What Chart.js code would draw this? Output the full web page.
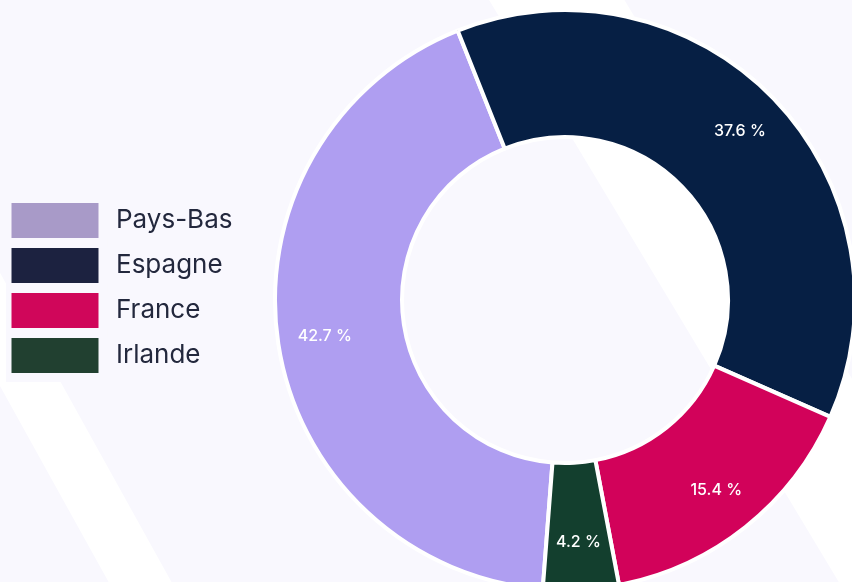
<!DOCTYPE html>
<html>
<head>
<meta charset="utf-8">
<script src="https://cdn.jsdelivr.net/npm/chart.js@4/dist/chart.umd.min.js"></script>
<style>
  html, body { margin: 0; padding: 0; background: #f9f8fe; overflow: hidden; }
  #wrap { position: relative; width: 852px; height: 582px; overflow: hidden; background: #f9f8fe; }
  .stripe { position: absolute; background: #ffffff; height: 1400px; transform-origin: 50% 50%; }
  #s1 { left: 679px; top: -400px; width: 116px; transform: rotate(-31deg); }
  #s2 { left: 56px; top: -220px; width: 55px; transform: rotate(-29deg); }
  canvas { position: absolute; left: 0; top: 0; z-index: 2; }
</style>
</head>
<body>
<div id="wrap">
  <div class="stripe" id="s1"></div>
  <div class="stripe" id="s2"></div>
  <canvas id="c" width="852" height="582"></canvas>
</div>
<script>
const countries = ['Pays-Bas', 'Espagne', 'France', 'Irlande'];
const shares = [42.7, 37.6, 15.4, 4.2];
const sliceColors = ['#af9ef1', '#061f44', '#d2025a', '#133f2e'];
const legendColors = ['#a89ac8', '#1c2240', '#d0065a', '#214030'];
const BG = '#f9f8fe';

const legendTweak = {
  id: 'legendTweak',
  beforeLayout(chart) {
    const lg = chart.legend;
    if (lg && !lg._patched) {
      const orig = lg.fit;
      lg.fit = function () { orig.call(this); this.width = 272; };
      lg._patched = true;
    }
  },
  afterLayout(chart) {
    const lg = chart.legend;
    if (lg) { lg.top -= 12; lg.bottom -= 12; }
  }
};

const pctLabels = {
  id: 'pctLabels',
  afterDatasetsDraw(chart) {
    const ctx = chart.ctx;
    const meta = chart.getDatasetMeta(0);
    ctx.save();
    ctx.fillStyle = '#ffffff';
    ctx.font = '500 16px Inter, "DejaVu Sans", sans-serif';
    ctx.textAlign = 'center';
    ctx.textBaseline = 'middle';
    meta.data.forEach((arc, i) => {
      const p = arc.getProps(['x', 'y', 'startAngle', 'endAngle', 'innerRadius', 'outerRadius'], true);
      const a = (p.startAngle + p.endAngle) / 2;
      const r = p.innerRadius + 0.63 * (p.outerRadius - p.innerRadius);
      ctx.fillText(shares[i].toFixed(1) + ' %', p.x + r * Math.cos(a), p.y + r * Math.sin(a));
    });
    ctx.restore();
  }
};

new Chart(document.getElementById('c'), {
  type: 'doughnut',
  data: {
    labels: countries,
    datasets: [{
      data: shares,
      backgroundColor: sliceColors,
      borderColor: '#ffffff',
      borderWidth: 4,
      hoverOffset: 0
    }]
  },
  options: {
    responsive: false,
    animation: false,
    devicePixelRatio: 1,
    rotation: 184.4,
    radius: 290,
    cutout: '56.2%',
    layout: { padding: { left: 6, top: 18, right: 0, bottom: 0 } },
    plugins: {
      tooltip: { enabled: false },
      legend: {
        position: 'left',
        labels: {
          boxWidth: 96,
          boxHeight: 44,
          padding: 1,
          color: '#23283d',
          font: { family: 'Inter, "DejaVu Sans", sans-serif', size: 26 },
          generateLabels() {
            return countries.map((t, i) => ({
              text: t,
              fillStyle: legendColors[i],
              strokeStyle: BG,
              lineWidth: 9,
              hidden: false,
              index: i,
              fontColor: '#23283d'
            }));
          }
        }
      }
    }
  },
  plugins: [legendTweak, pctLabels]
});
</script>
</body>
</html>
